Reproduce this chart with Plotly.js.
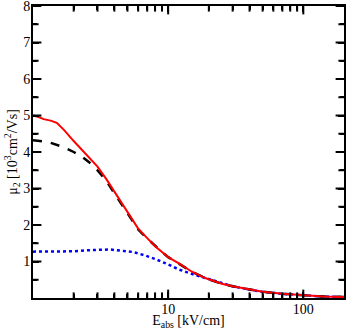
<!DOCTYPE html>
<html><head><meta charset="utf-8">
<script src="https://cdn.plot.ly/plotly-3.0.1.min.js"></script>
<style>body{margin:0;padding:0;background:#fff}#c{width:346px;height:330px}</style>
</head><body><div id="c"></div>
<script>
const fieldE = [1, 1.1, 1.2, 1.35, 1.5, 1.7, 2.0, 2.3, 2.6, 3.0, 3.5, 4.0, 4.5, 5, 6, 7, 8, 9, 10, 12, 15, 19, 25, 30, 40, 50, 70, 100, 140, 200];
const muTotal = [5.0, 4.96, 4.9, 4.86, 4.8, 4.6, 4.3, 4.05, 3.85, 3.6, 3.25, 2.92, 2.62, 2.34, 1.9, 1.64, 1.42, 1.26, 1.12, 0.95, 0.72, 0.54, 0.39, 0.32, 0.23, 0.17, 0.115, 0.07, 0.04, 0.025];
const muDashed = [4.32, 4.31, 4.29, 4.25, 4.2, 4.13, 4.0, 3.87, 3.72, 3.5, 3.2, 2.87, 2.58, 2.3, 1.88, 1.63, 1.42, 1.26, 1.12, 0.95, 0.72, 0.54, 0.39, 0.32, 0.23, 0.17, 0.115, 0.07, 0.04, 0.025];
const fieldBlue = [1, 1.5, 2, 2.6, 3, 3.7, 4.4, 5, 5.5, 6.7, 8, 10, 12, 14.7, 18, 22, 25, 30, 40, 50, 70, 100, 140, 200];
const muBlue = [1.27, 1.27, 1.28, 1.31, 1.32, 1.33, 1.30, 1.28, 1.26, 1.17, 1.07, 0.92, 0.78, 0.67, 0.57, 0.46, 0.40, 0.32, 0.23, 0.17, 0.115, 0.07, 0.04, 0.025];
const yTicks = [1, 2, 3, 4, 5, 6, 7, 8];
const yMinor = [0.5, 1.5, 2.5, 3.5, 4.5, 5.5, 6.5, 7.5];
const xTicks = [10, 100];
const xMinor = [2, 3, 4, 5, 6, 7, 8, 9, 20, 30, 40, 50, 60, 70, 80, 90];
const xRange = [1, 200];
const yRange = [0, 8];

const font = {family: 'Liberation Serif, Times New Roman, serif', size: 14, color: '#000'};
const traces = [
  {x: fieldBlue, y: muBlue, mode: 'lines', line: {color: '#0000ff', width: 2.5, dash: 'dot'}},
  {x: fieldE, y: muDashed, mode: 'lines', line: {color: '#000', width: 2.5, dash: 'dash'}},
  {x: fieldE, y: muTotal, mode: 'lines', line: {color: '#ff0000', width: 2}}
];

// tick marks: line markers centred on the frame edges, clipped to the plot area
function tickTrace(xs, ys, symbol, size) {
  return {x: xs, y: ys, mode: 'markers', hoverinfo: 'skip', cliponaxis: true,
    marker: {symbol: symbol, size: size, color: '#000', line: {color: '#000', width: 2}}};
}
[[xTicks, 12], [xMinor, 8]].forEach(([vals, s]) => {
  yRange.forEach(edge => traces.push(tickTrace(vals, vals.map(() => edge), 'line-ns-open', s)));
});
[[yTicks, 12], [yMinor, 8]].forEach(([vals, s]) => {
  xRange.forEach(edge => traces.push(tickTrace(vals.map(() => edge), vals, 'line-ew-open', s)));
});

const layout = {
  width: 346, height: 330,
  margin: {l: 33, r: 2, t: 6, b: 32},
  showlegend: false,
  paper_bgcolor: '#fff', plot_bgcolor: '#fff',
  font: font,
  xaxis: {
    type: 'log', range: xRange.map(Math.log10),
    tickvals: xTicks, ticktext: xTicks.map(String),
    ticks: 'inside', ticklen: 6, tickwidth: 2, tickcolor: '#000',
    minor: {tickmode: 'array', tickvals: xMinor, ticks: 'inside', ticklen: 4, tickwidth: 2, tickcolor: '#000'},
    showline: true, linewidth: 2, linecolor: 'black', mirror: 'allticks',
    showgrid: false, zeroline: false, ticklabeloverflow: 'allow', ticklabelstandoff: -3,
    tickfont: font,
    title: {text: 'E<sub>abs</sub> [kV/cm]', font: font, standoff: 2}
  },
  yaxis: {
    range: yRange,
    tickvals: yTicks,
    ticks: 'inside', ticklen: 6, tickwidth: 2, tickcolor: '#000',
    minor: {tickmode: 'array', tickvals: yMinor, ticks: 'inside', ticklen: 4, tickwidth: 2, tickcolor: '#000'},
    showline: true, linewidth: 2, linecolor: 'black', mirror: 'allticks',
    showgrid: false, zeroline: false, ticklabeloverflow: 'allow', ticklabelstandoff: -2,
    tickfont: font,
    title: {text: 'μ<sub>2</sub> [10<sup>3</sup>cm<sup>2</sup>/Vs]', font: font, standoff: 2}
  }
};
Plotly.newPlot('c', traces, layout, {displayModeBar: false});
</script></body></html>
